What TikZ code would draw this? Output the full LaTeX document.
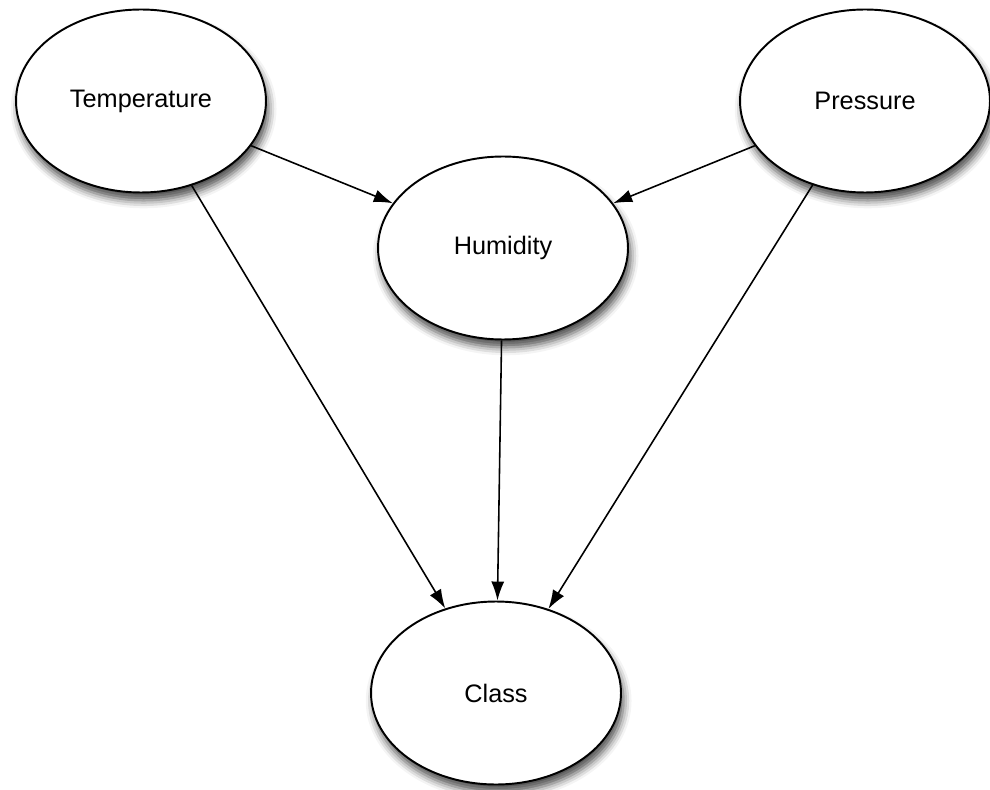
\documentclass[tikz,border=0pt]{standalone}
\usepackage{fontspec}
\setmainfont{Liberation Sans}
\usetikzlibrary{arrows.meta,shapes.geometric,shadows.blur}

\tikzset{
  var/.style={ellipse, draw=black, line width=1.1pt, fill=white,
    minimum width=5cm, minimum height=3.66cm, inner sep=0pt,
    font=\fontsize{14.4}{17}\selectfont,
    blur shadow={shadow xshift=1.5pt, shadow yshift=-4.5pt,
      shadow blur radius=4.5pt, shadow opacity=70}},
  link/.style={draw=black, line width=0.9pt,
    -{Latex[length=0.38cm,width=0.26cm]}}
}

\begin{document}
\begin{tikzpicture}[x=0.02cm, y=-0.02cm]
  \useasboundingbox (0,0) rectangle (990,790);

  % variables of the network
  \node[var] (temp)  at (141,101) {Temperature};
  \node[var] (press) at (865,101) {Pressure};
  \node[var] (hum)   at (503,248) {Humidity};
  \node[var] (cls)   at (496,693) {Class};

  % dependencies
  \draw[link] (temp)  -- (hum);
  \draw[link] (press) -- (hum);
  \draw[link] (temp)  -- (cls);
  \draw[link] (hum)   -- (cls);
  \draw[link] (press) -- (cls);
\end{tikzpicture}
\end{document}
